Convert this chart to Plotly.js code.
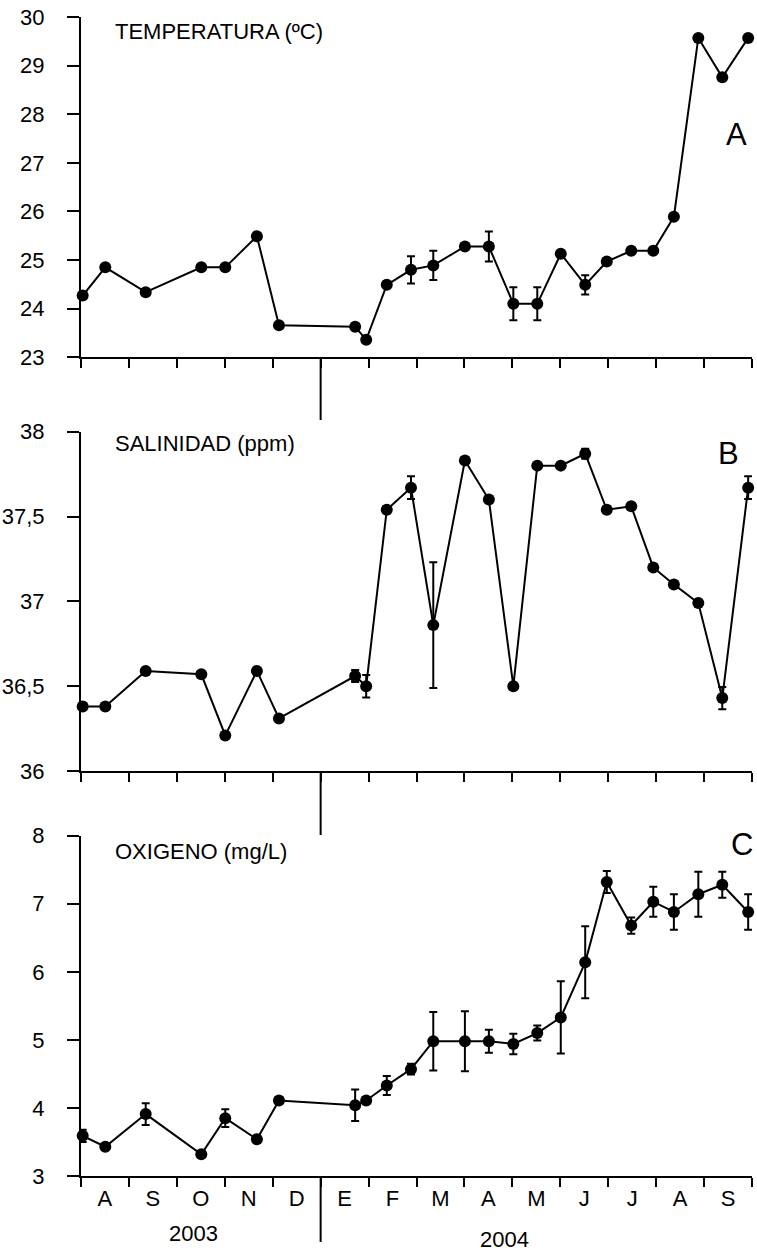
<!DOCTYPE html>
<html>
<head>
<meta charset="utf-8">
<script src="https://cdn.plot.ly/plotly-3.0.1.min.js"></script>
<style>html,body{margin:0;padding:0;background:#fff;}</style>
</head>
<body>
<div id="chart" style="width:757px;height:1253px;"></div>
<script>
// sampling dates, in months since 1 Aug 2003
const sampleMonth = [0.035, 0.507, 1.35, 2.51, 3.01, 3.67, 4.13, 5.72, 5.95, 6.38, 6.885, 7.35, 8.01, 8.51, 9.02, 9.52, 10.01, 10.52, 10.97, 11.48, 11.94, 12.37, 12.88, 13.38, 13.92];

const temperature = [24.27, 24.85, 24.34, 24.85, 24.85, 25.49, 23.66, 23.63, 23.36, 24.49, 24.80, 24.89, 25.28, 25.28, 24.10, 24.10, 25.13, 24.49, 24.97, 25.19, 25.19, 25.89, 29.57, 28.76, 29.57];
const temperatureErr = [0, 0, 0, 0, 0, 0, 0, 0, 0, 0, 0.28, 0.30, 0, 0.31, 0.34, 0.34, 0, 0.20, 0, 0, 0, 0, 0, 0, 0];

const salinity = [36.38, 36.38, 36.59, 36.57, 36.21, 36.59, 36.31, 36.56, 36.50, 37.54, 37.67, 36.86, 37.83, 37.60, 36.50, 37.80, 37.80, 37.87, 37.54, 37.56, 37.20, 37.10, 36.99, 36.43, 37.67];
const salinityErr = [0, 0, 0, 0, 0, 0, 0, 0.035, 0.066, 0.02, 0.067, 0.37, 0, 0, 0, 0, 0, 0.03, 0.02, 0.02, 0, 0, 0, 0.066, 0.067];

const oxygen = [3.59, 3.43, 3.91, 3.32, 3.85, 3.54, 4.11, 4.04, 4.11, 4.33, 4.57, 4.98, 4.98, 4.98, 4.94, 5.10, 5.33, 6.14, 7.32, 6.68, 7.03, 6.88, 7.14, 7.28, 6.88];
const oxygenErr = [0.09, 0, 0.16, 0, 0.13, 0, 0, 0.23, 0, 0.14, 0.08, 0.43, 0.44, 0.17, 0.15, 0.11, 0.53, 0.53, 0.16, 0.12, 0.22, 0.26, 0.33, 0.19, 0.26];

const monthBoundaries = [0, 1, 2, 3, 4, 5, 6, 7, 8, 9, 10, 11, 12, 13, 14];
const monthCenters = [0.5, 1.5, 2.5, 3.5, 4.5, 5.5, 6.5, 7.5, 8.5, 9.5, 10.5, 11.5, 12.5, 13.5];
const monthLabels = ['A', 'S', 'O', 'N', 'D', 'E', 'F', 'M', 'A', 'M', 'J', 'J', 'A', 'S'];
const yearLabels = ['2003', '2004'];
const yearPositions = [2.34, 8.83];
const yearBoundary = 5;

const tempTicks = [23, 24, 25, 26, 27, 28, 29, 30];
const salTicks = [36, 36.5, 37, 37.5, 38];
const salTickText = ['36', '36,5', '37', '37,5', '38'];
const oxTicks = [3, 4, 5, 6, 7, 8];

const panelTitles = ['TEMPERATURA (ºC)', 'SALINIDAD (ppm)', 'OXIGENO (mg/L)'];
const panelLetters = ['A', 'B', 'C'];

const FONT = 'Liberation Sans, Arial, Helvetica, sans-serif';

function series(y, err, xa, ya) {
  return {
    x: sampleMonth, y: y, xaxis: xa, yaxis: ya,
    type: 'scatter', mode: 'lines+markers',
    line: {color: '#000', width: 2},
    marker: {color: '#000', size: 12, symbol: 'circle'},
    error_y: {type: 'data', array: err, visible: true, color: '#000', thickness: 2, width: 4},
    cliponaxis: false, showlegend: false, hoverinfo: 'x+y'
  };
}

const data = [
  series(temperature, temperatureErr, 'x', 'y'),
  series(salinity, salinityErr, 'x2', 'y2'),
  series(oxygen, oxygenErr, 'x3', 'y3'),
  // carrier trace so the month-label axis is drawn
  {x: monthCenters, y: monthCenters.map(() => null), xaxis: 'x4', yaxis: 'y3',
   type: 'scatter', mode: 'markers', showlegend: false, hoverinfo: 'skip'}
];

function xAxis(anchor) {
  return {
    anchor: anchor, domain: [0, 1], range: [0, 14],
    tickmode: 'array', tickvals: monthBoundaries, showticklabels: false,
    ticks: 'outside', ticklen: 9, tickwidth: 2, tickcolor: '#000',
    showline: true, linewidth: 2, linecolor: '#000',
    showgrid: false, zeroline: false, fixedrange: true
  };
}
function yAxis(domain, range, vals, text) {
  const a = {
    domain: domain, range: range, anchor: 'x',
    tickmode: 'array', tickvals: vals,
    ticks: 'outside', ticklen: 12, tickwidth: 2, tickcolor: '#000',
    ticklabelstandoff: 18,
    tickfont: {family: FONT, size: 22, color: '#000'},
    showline: true, linewidth: 2, linecolor: '#000',
    showgrid: false, zeroline: false, fixedrange: true
  };
  if (text) a.ticktext = text;
  return a;
}

const domA = [0.7064, 1], domB = [0.3494, 0.6422], domC = [0, 0.2936];

const layout = {
  width: 757, height: 1253,
  margin: {l: 81, r: 5, t: 17, b: 77},
  paper_bgcolor: '#fff', plot_bgcolor: 'rgba(0,0,0,0)',
  separators: ',.',
  font: {family: FONT, size: 22, color: '#000'},
  showlegend: false,
  xaxis: xAxis('y'),
  xaxis2: xAxis('y2'),
  xaxis3: xAxis('y3'),
  xaxis4: {
    overlaying: 'x3', anchor: 'y3', side: 'bottom', range: [0, 14],
    tickmode: 'array', tickvals: monthCenters, ticktext: monthLabels,
    ticks: 'outside', ticklen: 3, tickcolor: 'rgba(0,0,0,0)',
    showticklabels: true,
    tickfont: {family: FONT, size: 22, color: '#000'},
    showline: false, showgrid: false, zeroline: false, fixedrange: true
  },
  yaxis: Object.assign(yAxis(domA, [23, 30], tempTicks), {anchor: 'x'}),
  yaxis2: Object.assign(yAxis(domB, [36, 38], salTicks, salTickText), {anchor: 'x2'}),
  yaxis3: Object.assign(yAxis(domC, [3, 8], oxTicks), {anchor: 'x3'}),
  shapes: [
    {type: 'line', xref: 'x', yref: 'paper', x0: yearBoundary, x1: yearBoundary, y0: domA[0], y1: 0.6523, line: {color: '#000', width: 2}},
    {type: 'line', xref: 'x2', yref: 'paper', x0: yearBoundary, x1: yearBoundary, y0: domB[0], y1: 0.2942, line: {color: '#000', width: 2}},
    {type: 'line', xref: 'x3', yref: 'paper', x0: yearBoundary, x1: yearBoundary, y0: domC[0], y1: -0.0569, line: {color: '#000', width: 2}}
  ],
  annotations: [
    {text: panelTitles[0], xref: 'paper', yref: 'paper', x: 0.0472, y: 0.9873, xanchor: 'left', yanchor: 'middle', showarrow: false, font: {size: 22}},
    {text: panelTitles[1], xref: 'paper', yref: 'paper', x: 0.0472, y: 0.6316, xanchor: 'left', yanchor: 'middle', showarrow: false, font: {size: 22}},
    {text: panelTitles[2], xref: 'paper', yref: 'paper', x: 0.0472, y: 0.2798, xanchor: 'left', yanchor: 'middle', showarrow: false, font: {size: 22}},
    {text: panelLetters[0], xref: 'paper', yref: 'paper', x: 0.9762, y: 0.8982, xanchor: 'center', yanchor: 'middle', showarrow: false, font: {size: 31}},
    {text: panelLetters[1], xref: 'paper', yref: 'paper', x: 0.965, y: 0.623, xanchor: 'center', yanchor: 'middle', showarrow: false, font: {size: 31}},
    {text: panelLetters[2], xref: 'paper', yref: 'paper', x: 0.9851, y: 0.2856, xanchor: 'center', yanchor: 'middle', showarrow: false, font: {size: 31}},
    {text: yearLabels[0], xref: 'x3', yref: 'paper', x: yearPositions[0], y: -0.0492, xanchor: 'center', yanchor: 'middle', showarrow: false, font: {size: 22}},
    {text: yearLabels[1], xref: 'x3', yref: 'paper', x: yearPositions[1], y: -0.0544, xanchor: 'center', yanchor: 'middle', showarrow: false, font: {size: 22}}
  ]
};

Plotly.newPlot('chart', data, layout, {staticPlot: true, displayModeBar: false});
</script>
</body>
</html>
